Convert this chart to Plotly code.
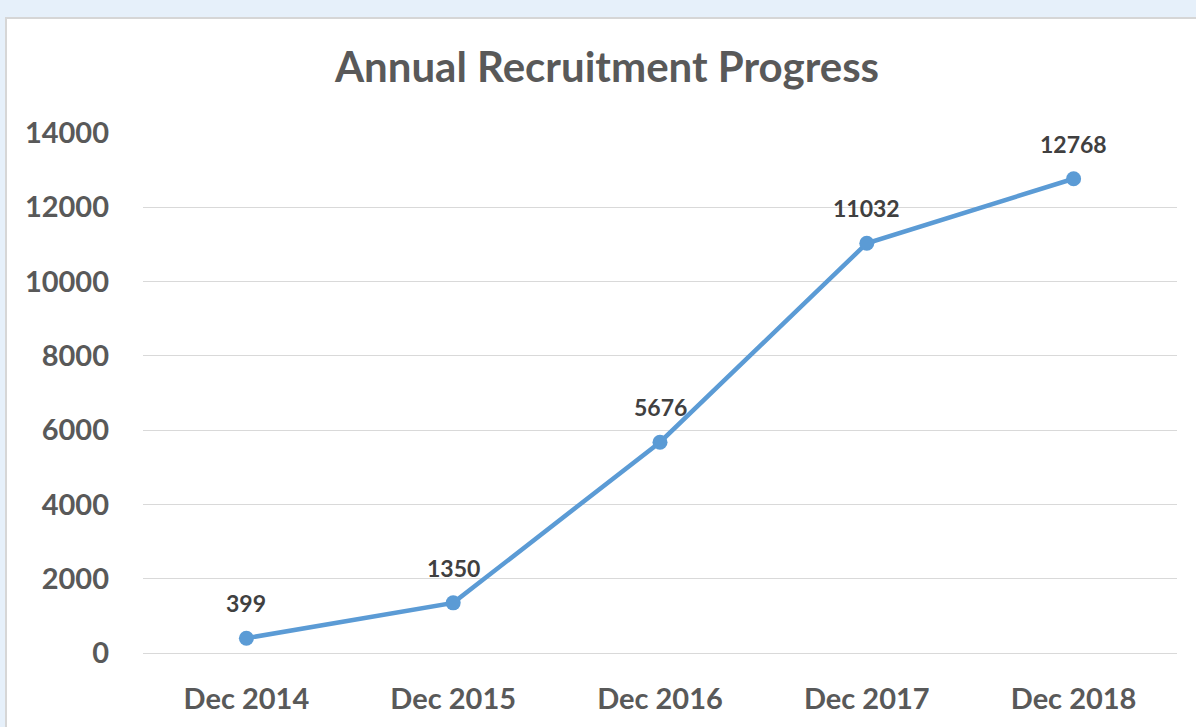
import plotly.graph_objects as go

categories = ["Dec 2014", "Dec 2015", "Dec 2016", "Dec 2017", "Dec 2018"]
recruits = [399, 1350, 5676, 11032, 12768]
y_ticks = [0, 2000, 4000, 6000, 8000, 10000, 12000, 14000]

W, H = 1196, 727
L, R, T, B = 143, 19, 133, 70
pw, ph = W - L - R, H - T - B

def px_x(x):
    return (x - L) / pw

def px_y(y):
    return (H - B - y) / ph

fig = go.Figure()
fig.add_trace(go.Scatter(
    x=categories, y=recruits,
    mode="lines+markers",
    line=dict(color="#5b9bd5", width=4.5),
    marker=dict(color="#5b9bd5", size=15),
    cliponaxis=False,
    hoverinfo="x+y",
))

annotations = [
    dict(x=c, y=v, xref="x", yref="y", text=str(v), showarrow=False,
         yshift=35, yanchor="middle", xanchor="center",
         font=dict(family="Lato", size=23, color="#404040", weight="bold"))
    for c, v in zip(categories, recruits)
]

fig.update_layout(
    width=W, height=H,
    margin=dict(l=L, r=R, t=T, b=B),
    paper_bgcolor="#e6f0fa",
    plot_bgcolor="white",
    showlegend=False,
    annotations=annotations,
    title=dict(text="Annual Recruitment Progress", x=607 / W, xanchor="center",
               y=1 - 67 / H, yanchor="middle",
               font=dict(family="Lato", size=42, color="#595959", weight="bold")),
    shapes=[dict(type="rect", xref="paper", yref="paper", layer="below",
                 x0=px_x(6), x1=px_x(W + 10), y0=px_y(H + 10), y1=px_y(17),
                 fillcolor="white", line=dict(color="#d6d6d6", width=2))],
)
fig.update_xaxes(
    type="category", range=[-0.5, 4.5], showgrid=False, showline=False,
    ticks="", tickfont=dict(family="Lato", size=29, color="#595959", weight="bold"),
    ticklabelstandoff=26,
)
fig.update_yaxes(
    range=[0, 14000], tickvals=y_ticks, ticktext=[str(v) for v in y_ticks],
    showgrid=True, gridcolor="#d9d9d9", gridwidth=1, zeroline=True,
    zerolinecolor="#d9d9d9", zerolinewidth=1, showline=False, ticks="",
    tickfont=dict(family="Lato", size=29, color="#595959", weight="bold"),
    ticklabelstandoff=33,
)
fig.write_html("out.html", config={"displayModeBar": False},
               post_script="document.body.style.margin='0';")
